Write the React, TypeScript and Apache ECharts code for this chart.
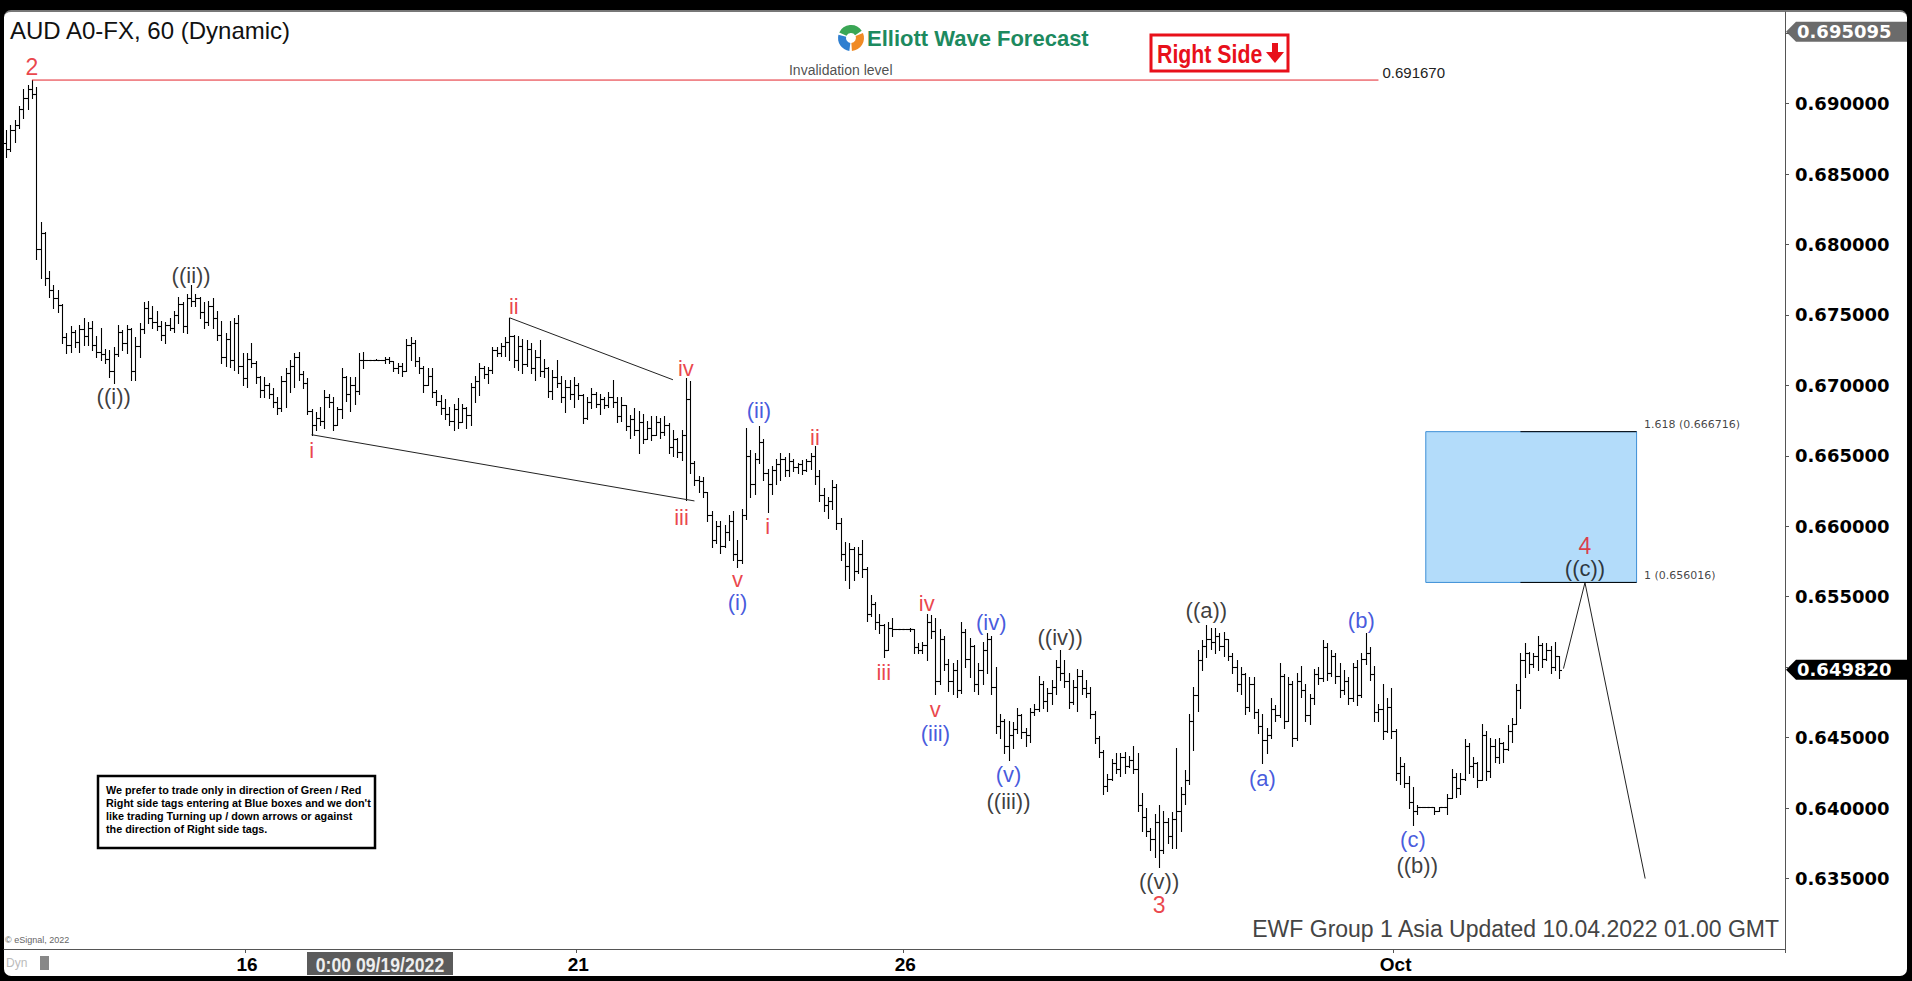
import React, { useEffect, useRef } from "react";
import * as echarts from "echarts";

// OHLC hourly bars [open, high, low, close]
const bars: number[][] = [
  [.6872,.6881,.6862,.6868],[.6868,.6885,.6866,.6881],[.6881,.6888,.6873,.6885],[.6885,.6898,.6883,.6896],
  [.6896,.6910,.6890,.6904],[.6904,.6913,.6896,.6910],[.6910,.6917,.6904,.6907],[.6907,.6912,.6790,.6797],
  [.6797,.6816,.6776,.6808],[.6808,.6809,.6771,.6776],[.6776,.6781,.6763,.6768],[.6768,.6771,.6755,.6762],
  [.6762,.6768,.6752,.6757],[.6757,.6758,.6730,.6734],[.6734,.6737,.6723,.6729],[.6729,.6742,.6724,.6738],
  [.6738,.6739,.6727,.6731],[.6731,.6743,.6724,.6740],[.6740,.6748,.6729,.6735],[.6735,.6745,.6729,.6741],
  [.6741,.6746,.6725,.6729],[.6729,.6735,.6720,.6724],[.6724,.6741,.6718,.6722],[.6722,.6726,.6716,.6719],
  [.6719,.6725,.6706,.6710],[.6710,.6727,.6702,.6722],[.6722,.6743,.6721,.6738],[.6738,.6739,.6725,.6730],
  [.6730,.6743,.6723,.6740],[.6740,.6741,.6704,.6710],[.6710,.6734,.6704,.6728],[.6728,.6744,.6720,.6740],
  [.6740,.6759,.6737,.6755],[.6755,.6760,.6744,.6748],[.6748,.6756,.6741,.6745],[.6745,.6753,.6739,.6742],
  [.6742,.6746,.6732,.6736],[.6736,.6745,.6730,.6743],[.6743,.6748,.6739,.6741],[.6741,.6753,.6738,.6750],
  [.6750,.6763,.6744,.6758],[.6758,.6759,.6738,.6742],[.6742,.6765,.6737,.6762],[.6762,.6771,.6756,.6760],
  [.6760,.6765,.6756,.6762],[.6762,.6763,.6748,.6752],[.6752,.6759,.6741,.6745],[.6745,.6760,.6743,.6756],
  [.6756,.6762,.6741,.6748],[.6748,.6753,.6732,.6736],[.6736,.6746,.6716,.6720],[.6720,.6737,.6714,.6733],
  [.6733,.6746,.6713,.6718],[.6718,.6748,.6711,.6744],[.6744,.6750,.6709,.6714],[.6714,.6723,.6700,.6705],
  [.6705,.6723,.6699,.6719],[.6719,.6730,.6713,.6716],[.6716,.6717,.6702,.6706],[.6706,.6707,.6692,.6697],
  [.6697,.6706,.6692,.6700],[.6700,.6702,.6691,.6694],[.6694,.6698,.6685,.6688],[.6688,.6692,.6680,.6684],
  [.6684,.6707,.6682,.6703],[.6703,.6712,.6685,.6709],[.6709,.6718,.6695,.6714],[.6714,.6723,.6699,.6720],
  [.6720,.6724,.6704,.6708],[.6708,.6710,.6698,.6702],[.6702,.6705,.6680,.6682],[.6682,.6683,.6665,.6672],
  [.6672,.6681,.6668,.6677],[.6677,.6685,.6672,.6675],[.6675,.6697,.6670,.6692],[.6692,.6694,.6685,.6688],
  [.6688,.6692,.6668,.6672],[.6672,.6685,.6672,.6683],[.6683,.6712,.6677,.6706],[.6706,.6707,.6689,.6694],
  [.6694,.6706,.6682,.6700],[.6700,.6706,.6687,.6696],[.6696,.6723,.6694,.6718],[.6718,.6724,.6712,.6718],
  [.6718,.6718,.6718,.6718],[.6718,.6718,.6718,.6718],[.6718,.6719,.6718,.6718],[.6718,.6718,.6718,.6718],
  [.6718,.6720,.6716,.6719],[.6719,.6720,.6716,.6717],[.6717,.6717,.6710,.6712],[.6712,.6716,.6709,.6714],
  [.6714,.6716,.6707,.6710],[.6710,.6733,.6710,.6729],[.6729,.6734,.6718,.6730],[.6730,.6732,.6714,.6717],
  [.6717,.6720,.6709,.6712],[.6712,.6714,.6695,.6700],[.6700,.6712,.6700,.6707],[.6707,.6712,.6692,.6695],
  [.6695,.6697,.6686,.6689],[.6689,.6693,.6680,.6684],[.6684,.6690,.6676,.6680],[.6680,.6685,.6672,.6675],
  [.6675,.6687,.6668,.6683],[.6683,.6691,.6670,.6674],[.6674,.6687,.6674,.6684],[.6684,.6685,.6670,.6679],
  [.6679,.6702,.6672,.6699],[.6699,.6707,.6688,.6703],[.6703,.6716,.6693,.6712],[.6712,.6714,.6705,.6708],
  [.6708,.6713,.6702,.6711],[.6711,.6727,.6709,.6725],[.6725,.6727,.6721,.6723],[.6723,.6730,.6721,.6728],
  [.6728,.6734,.6721,.6731],[.6731,.6748,.6718,.6735],[.6735,.6736,.6713,.6718],[.6718,.6735,.6711,.6728],
  [.6728,.6733,.6709,.6715],[.6715,.6732,.6714,.6726],[.6726,.6730,.6709,.6712],[.6712,.6725,.6704,.6720],
  [.6720,.6732,.6707,.6710],[.6710,.6719,.6706,.6712],[.6712,.6713,.6692,.6696],[.6696,.6711,.6690,.6706],
  [.6706,.6718,.6699,.6702],[.6702,.6707,.6688,.6692],[.6692,.6704,.6681,.6699],[.6699,.6704,.6690,.6694],
  [.6694,.6706,.6685,.6700],[.6700,.6702,.6690,.6693],[.6693,.6694,.6673,.6677],[.6677,.6692,.6676,.6688],
  [.6688,.6698,.6684,.6694],[.6694,.6695,.6685,.6687],[.6687,.6694,.6680,.6690],[.6690,.6692,.6684,.6686],
  [.6686,.6695,.6685,.6692],[.6692,.6704,.6685,.6688],[.6688,.6692,.6674,.6678],[.6678,.6692,.6675,.6686],
  [.6686,.6686,.6668,.6671],[.6671,.6679,.6663,.6676],[.6676,.6684,.6665,.6668],[.6668,.6682,.6652,.6674],
  [.6674,.6680,.6659,.6662],[.6662,.6675,.6662,.6670],[.6670,.6678,.6661,.6665],[.6665,.6678,.6665,.6674],
  [.6674,.6677,.6663,.6667],[.6667,.6678,.6665,.6672],[.6672,.6673,.6652,.6656],[.6656,.6668,.6650,.6662],
  [.6662,.6663,.6649,.6653],[.6653,.6668,.6647,.6665],[.6665,.6705,.6619,.6690],[.6690,.6703,.6638,.6645],
  [.6645,.6646,.6629,.6633],[.6633,.6636,.6624,.6632],[.6632,.6635,.6621,.6624],[.6624,.6624,.6604,.6608],
  [.6608,.6611,.6585,.6590],[.6590,.6604,.6588,.6600],[.6600,.6604,.6581,.6586],[.6586,.6601,.6585,.6596],
  [.6596,.6608,.6590,.6604],[.6604,.6611,.6576,.6580],[.6580,.6590,.6571,.6576],[.6576,.6612,.6574,.6608],
  [.6608,.6670,.6605,.6650],[.6650,.6654,.6621,.6630],[.6630,.6652,.6623,.6648],[.6648,.6671,.6645,.6660],
  [.6660,.6662,.6633,.6638],[.6638,.6641,.6610,.6630],[.6630,.6643,.6623,.6640],[.6640,.6648,.6630,.6644],
  [.6644,.6652,.6633,.6648],[.6648,.6649,.6636,.6640],[.6640,.6652,.6636,.6646],[.6646,.6648,.6639,.6642],
  [.6642,.6645,.6638,.6644],[.6644,.6647,.6637,.6640],[.6640,.6648,.6639,.6646],[.6646,.6652,.6641,.6650],
  [.6650,.6657,.6630,.6636],[.6636,.6640,.6618,.6622],[.6622,.6627,.6611,.6615],[.6615,.6621,.6606,.6618],
  [.6618,.6633,.6612,.6628],[.6628,.6630,.6598,.6602],[.6602,.6606,.6576,.6580],[.6580,.6589,.6562,.6572],
  [.6572,.6588,.6556,.6584],[.6584,.6585,.6562,.6568],[.6568,.6585,.6567,.6580],[.6580,.6590,.6564,.6570],
  [.6570,.6571,.6533,.6538],[.6538,.6551,.6536,.6545],[.6545,.6546,.6527,.6532],[.6532,.6538,.6524,.6530],
  [.6530,.6531,.6507,.6512],[.6512,.6532,.6512,.6528],[.6528,.6535,.6522,.6527],[.6527,.6527,.6527,.6527],
  [.6527,.6527,.6527,.6527],[.6527,.6527,.6527,.6527],[.6527,.6528,.6526,.6527],[.6527,.6527,.6510,.6514],
  [.6514,.6517,.6510,.6512],[.6512,.6518,.6510,.6516],[.6516,.6538,.6505,.6532],[.6532,.6537,.6521,.6526],
  [.6526,.6535,.6481,.6490],[.6490,.6527,.6488,.6520],[.6520,.6522,.6498,.6502],[.6502,.6506,.6483,.6490],
  [.6490,.6503,.6481,.6498],[.6498,.6505,.6479,.6484],[.6484,.6532,.6482,.6525],[.6525,.6527,.6500,.6506],
  [.6506,.6521,.6493,.6515],[.6515,.6516,.6483,.6488],[.6488,.6503,.6481,.6498],[.6498,.6518,.6488,.6512],
  [.6512,.6524,.6496,.6520],[.6520,.6522,.6481,.6486],[.6486,.6500,.6453,.6458],[.6458,.6467,.6450,.6462],
  [.6462,.6463,.6439,.6444],[.6444,.6462,.6434,.6452],[.6452,.6461,.6443,.6456],[.6456,.6471,.6453,.6466],
  [.6466,.6467,.6450,.6454],[.6454,.6457,.6444,.6452],[.6452,.6471,.6447,.6468],[.6468,.6474,.6466,.6470],
  [.6470,.6494,.6469,.6488],[.6488,.6490,.6471,.6476],[.6476,.6485,.6469,.6482],[.6482,.6491,.6474,.6486],
  [.6486,.6505,.6481,.6500],[.6500,.6512,.6491,.6496],[.6496,.6505,.6486,.6490],[.6490,.6496,.6471,.6475],
  [.6475,.6491,.6474,.6486],[.6486,.6499,.6469,.6494],[.6494,.6498,.6481,.6485],[.6485,.6491,.6479,.6482],
  [.6482,.6486,.6464,.6467],[.6467,.6469,.6446,.6450],[.6450,.6451,.6436,.6440],[.6440,.6441,.6410,.6416],
  [.6416,.6424,.6412,.6421],[.6421,.6435,.6420,.6432],[.6432,.6439,.6425,.6428],[.6428,.6439,.6423,.6436],
  [.6436,.6440,.6425,.6430],[.6430,.6437,.6429,.6434],[.6434,.6444,.6425,.6428],[.6428,.6439,.6398,.6402],
  [.6402,.6411,.6384,.6394],[.6394,.6400,.6380,.6384],[.6384,.6386,.6370,.6378],[.6378,.6396,.6365,.6390],
  [.6390,.6402,.6358,.6370],[.6370,.6398,.6368,.6390],[.6390,.6393,.6375,.6380],[.6380,.6397,.6372,.6392],
  [.6392,.6443,.6372,.6398],[.6398,.6415,.6384,.6410],[.6410,.6427,.6403,.6420],[.6420,.6467,.6417,.6462],
  [.6462,.6486,.6441,.6480],[.6480,.6512,.6469,.6505],[.6505,.6519,.6498,.6515],[.6515,.6530,.6507,.6520],
  [.6520,.6528,.6513,.6518],[.6518,.6528,.6510,.6522],[.6522,.6524,.6512,.6515],[.6515,.6525,.6508,.6520],
  [.6520,.6520,.6505,.6508],[.6508,.6510,.6496,.6500],[.6500,.6505,.6483,.6488],[.6488,.6500,.6481,.6495],
  [.6495,.6496,.6467,.6472],[.6472,.6493,.6469,.6488],[.6488,.6493,.6464,.6468],[.6468,.6470,.6453,.6458],
  [.6458,.6467,.6432,.6448],[.6448,.6457,.6439,.6452],[.6452,.6478,.6450,.6470],[.6470,.6473,.6462,.6466],
  [.6466,.6503,.6465,.6494],[.6494,.6495,.6457,.6462],[.6462,.6493,.6462,.6488],[.6488,.6490,.6444,.6450],
  [.6450,.6496,.6448,.6490],[.6490,.6501,.6479,.6484],[.6484,.6488,.6462,.6466],[.6466,.6481,.6460,.6478],
  [.6478,.6499,.6474,.6495],[.6495,.6500,.6488,.6492],[.6492,.6519,.6490,.6514],[.6514,.6517,.6491,.6496],
  [.6496,.6512,.6494,.6508],[.6508,.6510,.6489,.6494],[.6494,.6503,.6479,.6484],[.6484,.6498,.6481,.6490],
  [.6490,.6493,.6474,.6478],[.6478,.6503,.6476,.6500],[.6500,.6505,.6473,.6480],[.6480,.6510,.6479,.6506],
  [.6506,.6524,.6502,.6510],[.6510,.6514,.6491,.6495],[.6495,.6501,.6462,.6468],[.6468,.6474,.6462,.6470],
  [.6470,.6488,.6449,.6455],[.6455,.6478,.6454,.6472],[.6472,.6485,.6450,.6455],[.6455,.6456,.6420,.6425],
  [.6425,.6436,.6417,.6430],[.6430,.6432,.6415,.6418],[.6418,.6423,.6400,.6404],[.6404,.6415,.6388,.6398],
  [.6398,.6402,.6396,.6401],[.6401,.6401,.6401,.6401],[.6401,.6401,.6401,.6401],[.6401,.6401,.6401,.6401],
  [.6401,.6401,.6396,.6398],[.6398,.6401,.6398,.6401],[.6401,.6401,.6401,.6401],[.6401,.6410,.6396,.6407],
  [.6407,.6428,.6407,.6422],[.6422,.6425,.6408,.6414],[.6414,.6425,.6410,.6421],[.6421,.6449,.6420,.6444],
  [.6444,.6446,.6425,.6430],[.6430,.6436,.6422,.6432],[.6432,.6433,.6415,.6420],[.6420,.6460,.6420,.6452],
  [.6452,.6455,.6420,.6426],[.6426,.6450,.6422,.6444],[.6444,.6449,.6433,.6436],[.6436,.6450,.6432,.6446],
  [.6446,.6447,.6433,.6442],[.6442,.6459,.6441,.6455],[.6455,.6464,.6447,.6460],[.6460,.6488,.6460,.6484],
  [.6484,.6510,.6471,.6505],[.6505,.6517,.6493,.6510],[.6510,.6511,.6496,.6502],[.6502,.6510,.6500,.6508],
  [.6508,.6522,.6498,.6516],[.6516,.6517,.6500,.6506],[.6506,.6517,.6505,.6512],[.6512,.6515,.6496,.6500],
  [.6500,.6518,.6498,.6508],[.6508,.6508,.6492,.6498]
];

const slotCount = 414;
const dateTicks: [number, string][] = [[56, "16"], [133, "21"], [209, "26"], [323, "Oct"]];
const priceMin = 0.63;
const priceMax = 0.6965;
const priceStep = 0.005;
const hiddenPriceTicks = [0.63, 0.65, 0.695, 0.6965];
const topPrice = 0.695095;
const lastPrice = 0.64982;
const invalidationPrice = 0.69167;
const invalidationRange = [6, 319];
const boxRange = [330, 379];
const boxHigh = 0.666716;
const boxLow = 0.656016;
const fibLineFrom = 352;
const wedgeLower = [[71, 0.6665], [160, 0.6618]];
const wedgeUpper = [[117, 0.6748], [155, 0.6704]];
const projectionPath = [[362, 0.6499], [367, 0.656], [381, 0.635]];

// [index, price, text, colour key]
const waveLabels: [number, number, string, string][] = [
  [6, 0.6926, "2", "r"], [25, 0.6692, "((i))", "k"], [43, 0.6778, "((ii))", "k"],
  [71, 0.6654, "i", "r"], [118, 0.6756, "ii", "r"], [158, 0.6712, "iv", "r"],
  [157, 0.6606, "iii", "r"], [170, 0.6562, "v", "r"], [170, 0.6546, "(i)", "b"],
  [175, 0.6682, "(ii)", "b"], [177, 0.66, "i", "r"], [188, 0.6663, "ii", "r"],
  [204, 0.6496, "iii", "r"], [214, 0.6545, "iv", "r"], [216, 0.647, "v", "r"],
  [216, 0.6453, "(iii)", "b"], [229, 0.6532, "(iv)", "b"], [233, 0.6424, "(v)", "b"],
  [233, 0.6405, "((iii))", "k"], [245, 0.6521, "((iv))", "k"], [268, 0.6348, "((v))", "k"],
  [268, 0.6331, "3", "r"], [279, 0.654, "((a))", "k"], [292, 0.6421, "(a)", "b"],
  [315, 0.6533, "(b)", "b"], [327, 0.6378, "(c)", "b"], [328, 0.6359, "((b))", "k"],
  [367, 0.6586, "4", "r"], [367, 0.657, "((c))", "k"]
];
const fibLabels: [number, number, string][] = [[379, 0.6672, "1.618 (0.666716)"], [379, 0.6565, "1 (0.656016)"]];
const noteLabels: [number, number, string][] = [[194, 0.6924, "Invalidation level"]];
const disclaimerLines = [
  "We prefer to trade only in direction of Green / Red",
  "Right side tags entering at Blue boxes and we don't",
  "like trading Turning up / down arrows or against",
  "the direction of Right side tags."
];

const ARIAL = '"Liberation Sans", Arial, sans-serif';
const DEJAVU = '"DejaVu Sans", sans-serif';
const COLORS: Record<string, string> = { r: "#e5141b", b: "#1530d4", k: "#0a0a0a" };

export default function App() {
  const ref = useRef<HTMLDivElement>(null);
  useEffect(() => {
    const chart = echarts.init(ref.current!, null, { renderer: "svg" });
    const cats = Array.from({ length: slotCount }, (_, i) => {
      const t = dateTicks.find((d) => d[0] === i);
      return t ? t[1] : "";
    });
    const tickSet = new Set(dateTicks.map((d) => d[0]));
    const showTick = (i: number) => tickSet.has(i);
    const seg = (pts: number[][], color: string, extra: any = {}) => ({
      type: "line", data: pts, symbol: "none", silent: true, z: 4,
      lineStyle: { color, width: 1 }, ...extra
    });
    const labelItem = (i: number, p: number, t: string, color: string, size: number, extra: any = {}) => ({
      value: [i, p],
      label: { show: true, formatter: t, color, fontSize: size, lineHeight: Math.round(size * 0.8), fontFamily: ARIAL, ...extra }
    });

    chart.setOption({
      animation: false,
      backgroundColor: "transparent",
      grid: { left: 4, right: 127, top: 12, bottom: 32 },
      xAxis: {
        type: "category", data: cats, boundaryGap: true,
        axisLine: { lineStyle: { color: "#555", width: 1 } },
        axisTick: { show: true, interval: (i: number) => showTick(i), length: 4, lineStyle: { color: "#555" } },
        axisLabel: {
          interval: (i: number) => showTick(i), color: "#000", fontSize: 19, fontWeight: "bold",
          fontFamily: ARIAL, margin: 6
        },
        splitLine: { show: false }
      },
      yAxis: {
        type: "value", position: "right", min: priceMin, max: priceMax, interval: priceStep,
        axisLine: { show: true, lineStyle: { color: "#555" } },
        axisTick: { show: true, length: 4, lineStyle: { color: "#555" } },
        splitLine: { show: false },
        axisLabel: {
          color: "#000", fontSize: 18, fontWeight: "bold", fontFamily: DEJAVU, margin: 10,
          showMaxLabel: false, showMinLabel: false,
          formatter: (v: number) => (hiddenPriceTicks.some((h) => Math.abs(h - v) < 1e-7) ? "" : v.toFixed(6))
        }
      },
      series: [
        {
          type: "custom", name: "AUD",
          data: bars.map((b, i) => [i, b[0], b[1], b[2], b[3]]),
          encode: { x: 0, y: [1, 2, 3, 4] },
          z: 3,
          renderItem: (params: any, api: any) => {
            const i = api.value(0);
            const o = api.coord([i, api.value(1)]);
            const h = api.coord([i, api.value(2)]);
            const l = api.coord([i, api.value(3)]);
            const c = api.coord([i, api.value(4)]);
            const x = Math.round(h[0]) + 0.5;
            const yo = Math.round(o[1]) + 0.5;
            const yc = Math.round(c[1]) + 0.5;
            const yh = Math.round(h[1]);
            const yl = Math.max(Math.round(l[1]) + 1, yh + 1);
            const st = { stroke: "#000", lineWidth: 1.1 };
            return {
              type: "group",
              children: [
                { type: "line", shape: { x1: x, y1: yh, x2: x, y2: yl }, style: st },
                { type: "line", shape: { x1: x - 2.5, y1: yo, x2: x, y2: yo }, style: st },
                { type: "line", shape: { x1: x, y1: yc, x2: x + 2.5, y2: yc }, style: st }
              ]
            };
          },
          markArea: {
            silent: true,
            itemStyle: { color: "#b3dcfa", borderColor: "#3d8fd6", borderWidth: 1 },
            data: [[{ coord: [boxRange[0], boxHigh] }, { coord: [boxRange[1], boxLow] }]]
          }
        },
        seg([[invalidationRange[0], invalidationPrice], [invalidationRange[1], invalidationPrice]], "#e3232a", {
          endLabel: { show: true, formatter: "0.691670", color: "#222", fontSize: 15, fontFamily: ARIAL, distance: 4, offset: [0, -8] }
        }),
        seg(wedgeLower, "#222"),
        seg(wedgeUpper, "#222"),
        seg(projectionPath, "#222"),
        seg([[fibLineFrom, boxHigh], [boxRange[1], boxHigh]], "#000", { z: 5 }),
        seg([[fibLineFrom, boxLow], [boxRange[1], boxLow]], "#000", { z: 5 }),
        {
          type: "scatter", symbol: "rect", symbolSize: 1, itemStyle: { color: "transparent" }, silent: true, z: 10,
          label: { show: true, position: "inside" },
          data: waveLabels.map(([i, p, t, k]) =>
            labelItem(i, p, t, COLORS[k], k === "r" && /^\d$/.test(t) ? 23 : 22)
          )
        },
        {
          type: "scatter", symbol: "rect", symbolSize: 1, itemStyle: { color: "transparent" }, silent: true, z: 10,
          label: { show: true, position: "inside" },
          data: noteLabels.map(([i, p, t]) => labelItem(i, p, t, "#222", 14))
        },
        {
          type: "scatter", symbol: "rect", symbolSize: 1, itemStyle: { color: "transparent" }, silent: true, z: 10,
          label: { show: true, position: "right", distance: 7 },
          data: fibLabels.map(([i, p, t]) => labelItem(i, p, t, "#111", 11, { fontFamily: DEJAVU }))
        }
      ]
    });

    const yTop = chart.convertToPixel({ yAxisIndex: 0 }, topPrice) as number;
    const yLast = chart.convertToPixel({ yAxisIndex: 0 }, lastPrice) as number;
    const priceTag = (y: number, bg: string, text: string) => [
      { type: "polygon", shape: { points: [[1786, y], [1796, y - 10], [1907, y - 10], [1907, y + 10], [1796, y + 10]] }, style: { fill: bg } },
      { type: "text", x: 1797, y, style: { text, fill: "#fff", fontSize: 18, fontWeight: "bold", fontFamily: DEJAVU, verticalAlign: "middle", align: "left" } }
    ];

    chart.setOption({
      graphic: [
        { type: "text", x: 10, y: 30, style: { text: "AUD A0-FX, 60 (Dynamic)", fill: "#111", fontSize: 24, fontFamily: ARIAL, verticalAlign: "middle" } },
        { type: "sector", shape: { cx: 851, cy: 38, r: 13, r0: 5, startAngle: -2.7, endAngle: -0.6 }, style: { fill: "#3aa655" } },
        { type: "sector", shape: { cx: 851, cy: 38, r: 13, r0: 5, startAngle: -0.4, endAngle: 1.5 }, style: { fill: "#f08a24" } },
        { type: "sector", shape: { cx: 851, cy: 38, r: 13, r0: 5, startAngle: 1.7, endAngle: 3.4 }, style: { fill: "#2f7fd0" } },
        { type: "text", x: 867, y: 38, style: { text: "Elliott Wave Forecast", fill: "#1d8a5f", fontSize: 22, fontWeight: "bold", fontFamily: ARIAL, verticalAlign: "middle" } },
        { type: "rect", shape: { x: 1151, y: 35, width: 137, height: 36 }, style: { fill: "#fff", stroke: "#e8101a", lineWidth: 3 } },
        { type: "text", x: 1157, y: 54, scaleX: 0.82, style: { text: "Right Side", fill: "#e8101a", fontSize: 26, fontWeight: "bold", fontFamily: ARIAL, verticalAlign: "middle" } },
        { type: "rect", shape: { x: 1272, y: 43, width: 6, height: 10 }, style: { fill: "#e8101a" } },
        { type: "polygon", shape: { points: [[1266, 52], [1284, 52], [1275, 63]] }, style: { fill: "#e8101a" } },
        { type: "rect", shape: { x: 98, y: 776, width: 277, height: 72 }, style: { fill: "#fff", stroke: "#000", lineWidth: 2.5 } },
        ...disclaimerLines.map((t, k) => ({
          type: "text", x: 106, y: 790 + k * 13,
          style: { text: t, fill: "#000", fontSize: 10.8, fontWeight: "bold", fontFamily: ARIAL, verticalAlign: "middle" }
        })),
        { type: "text", x: 1779, y: 929, style: { text: "EWF Group 1 Asia Updated 10.04.2022 01.00 GMT", fill: "#444", fontSize: 23, fontFamily: ARIAL, align: "right", verticalAlign: "middle", textShadowColor: "rgba(0,0,0,0.3)", textShadowOffsetX: 1, textShadowOffsetY: 1 } },
        { type: "text", x: 5, y: 940, style: { text: "© eSignal, 2022", fill: "#666", fontSize: 9, fontFamily: ARIAL, verticalAlign: "middle" } },
        { type: "rect", shape: { x: 307, y: 952, width: 146, height: 23 }, style: { fill: "#5b5b5b" } },
        { type: "text", x: 380, y: 964, scaleX: 0.84, style: { text: "0:00 09/19/2022", fill: "#eeeeee", fontSize: 21, fontWeight: "bold", fontFamily: ARIAL, align: "center", verticalAlign: "middle" } },
        { type: "text", x: 6, y: 963, style: { text: "Dyn", fill: "#bbb", fontSize: 12, fontFamily: ARIAL, verticalAlign: "middle" } },
        { type: "rect", shape: { x: 40, y: 956, width: 9, height: 14 }, style: { fill: "#888" } },
        ...priceTag(yTop, "#6b6b6b", topPrice.toFixed(6)),
        ...priceTag(yLast, "#000", lastPrice.toFixed(6))
      ]
    });

    return () => chart.dispose();
  }, []);

  return (
    <div style={{ position: "fixed", left: 0, top: 0, width: 1912, height: 981, background: "#000", overflow: "hidden" }}>
      <div style={{ position: "absolute", left: 4, top: 10, width: 1903, height: 966, background: "#fff", borderRadius: 7, borderTop: "2px solid #777", boxSizing: "border-box" }} />
      <div ref={ref} style={{ position: "absolute", left: 0, top: 0, width: 1912, height: 981 }} />
    </div>
  );
}
